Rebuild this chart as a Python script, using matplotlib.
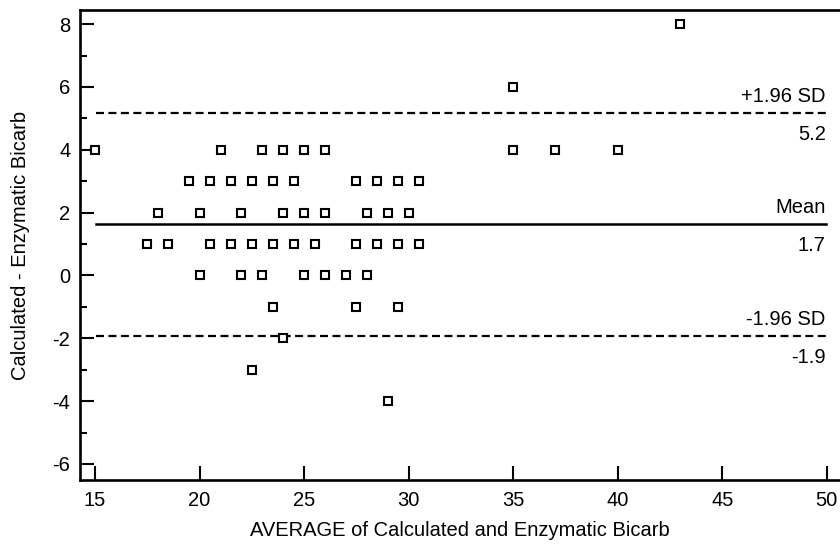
import numpy as np
import matplotlib.pyplot as plt
from matplotlib.ticker import MultipleLocator

## Bland-Altman: calculated vs enzymatic bicarbonate

avg = [15, 21, 23, 24, 25, 26, 35, 37, 40,
       43, 35,
       19.5, 20.5, 21.5, 22.5, 23.5, 24.5, 27.5, 28.5, 29.5, 30.5,
       18, 20, 22, 24, 25, 26, 28, 29, 30,
       17.5, 18.5, 20.5, 21.5, 22.5, 23.5, 24.5, 25.5, 27.5, 28.5, 29.5, 30.5,
       20, 22, 23, 25, 26, 27, 28,
       23.5, 27.5, 29.5,
       24, 22.5, 29]
diff = [4, 4, 4, 4, 4, 4, 4, 4, 4,
        8, 6,
        3, 3, 3, 3, 3, 3, 3, 3, 3, 3,
        2, 2, 2, 2, 2, 2, 2, 2, 2,
        1, 1, 1, 1, 1, 1, 1, 1, 1, 1, 1, 1,
        0, 0, 0, 0, 0, 0, 0,
        -1, -1, -1,
        -2, -3, -4]

mean_diff = 1.64
upper = 5.18
lower = -1.92
line_names = ["+1.96 SD", "Mean", "-1.96 SD"]
line_values = ["5.2", "1.7", "-1.9"]

plt.rcParams['font.family'] = ['Liberation Sans', 'DejaVu Sans']
plt.rcParams['font.size'] = 14.5
plt.rcParams['axes.unicode_minus'] = False
fs = 14.5

fig = plt.figure(figsize=(8.4, 5.44), dpi=100)
ax = fig.add_axes([80/840, 64/544, 1 - 80/840, (480-10)/544])

ax.plot(avg, diff, 's', ms=5.5, mfc='white', mec='black', mew=1.5, zorder=3)

x0, x1 = 15.05, 49.95
ax.plot([x0, x1], [mean_diff, mean_diff], color='black', lw=1.8)
ax.plot([x0, x1], [upper, upper], color='black', lw=1.6, dashes=(3.6, 2))
ax.plot([x0, x1], [lower, lower], color='black', lw=1.6, dashes=(3.6, 2))

for yv, name, val in zip([upper, mean_diff, lower], line_names, line_values):
    ax.annotate(name, (x1, yv), xytext=(0, 5), textcoords='offset points',
                ha='right', va='bottom', fontsize=fs)
    ax.annotate(val, (x1, yv), xytext=(0, -8.5), textcoords='offset points',
                ha='right', va='top', fontsize=fs)

ax.set_xlim(14.28, 50.63)
ax.set_ylim(-6.51, 8.45)
ax.xaxis.set_major_locator(MultipleLocator(5))
ax.yaxis.set_major_locator(MultipleLocator(2))
ax.yaxis.set_minor_locator(MultipleLocator(1))
ax.tick_params(axis='both', which='major', direction='in', length=10, width=1.5, labelsize=fs)
ax.tick_params(axis='x', pad=8)
ax.tick_params(axis='y', pad=7)
ax.tick_params(axis='y', which='minor', direction='in', length=5, width=1.5)
ax.tick_params(top=False, right=False, which='both')

ax.spines['right'].set_visible(False)
for s in ['left', 'bottom', 'top']:
    ax.spines[s].set_linewidth(1.9)

ax.set_xlabel("AVERAGE of Calculated and Enzymatic Bicarb", fontsize=fs, labelpad=8)
ax.set_ylabel("Calculated - Enzymatic Bicarb", fontsize=fs, labelpad=16)

fig.savefig("out.png", dpi=100)
